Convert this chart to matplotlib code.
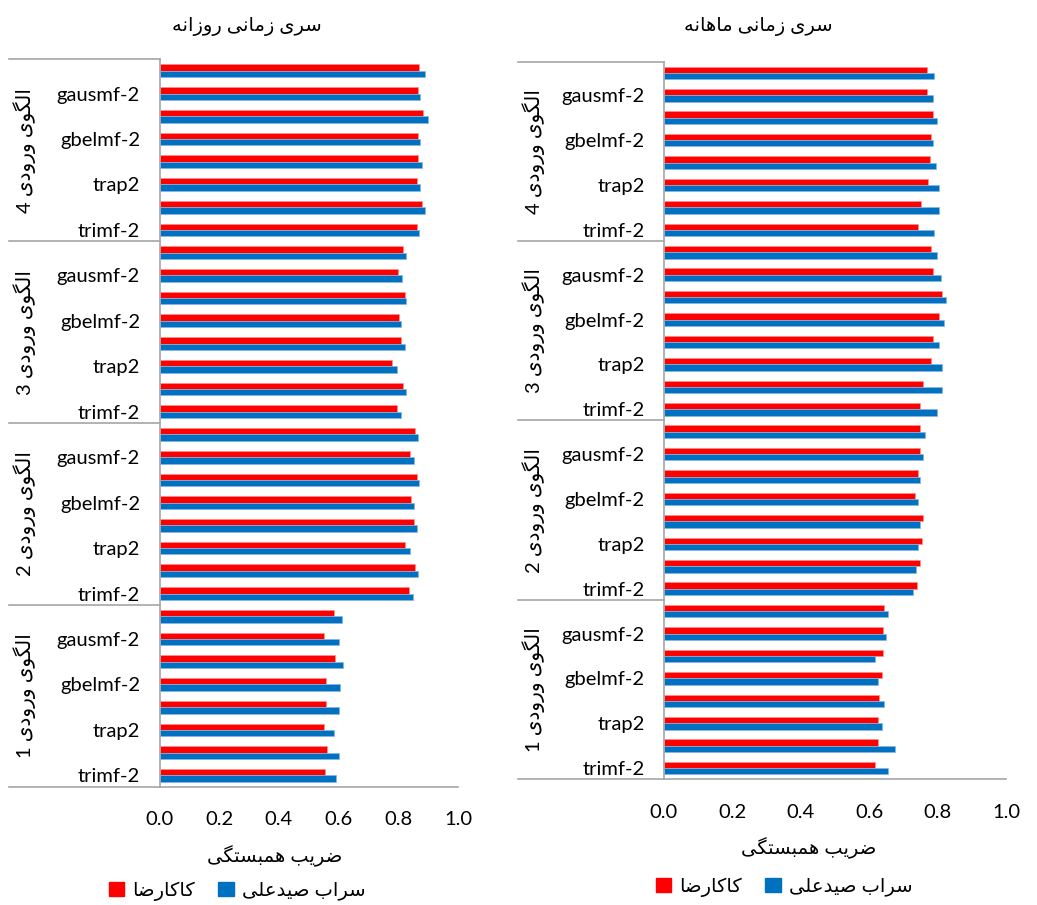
import re
import numpy as np
import matplotlib
matplotlib.use('Agg')
import matplotlib.pyplot as plt
from matplotlib.patches import Patch

plt.rcParams['font.family'] = ['Lato', 'DejaVu Sans']

# ---- data (rows listed bottom -> top inside each group) ----
group_names = ['الگوی ورودی 1', 'الگوی ورودی 2', 'الگوی ورودی 3', 'الگوی ورودی 4']
cat_labels = ['trimf-2', '', 'trap2', '', 'gbelmf-2', '', 'gausmf-2', '']
series_names = ['کاکارضا', 'سراب صیدعلی']
panel_titles = ['سری زمانی روزانه', 'سری زمانی ماهانه']
x_label = 'ضریب همبستگی'
x_ticks = [0.0, 0.2, 0.4, 0.6, 0.8, 1.0]

daily_kakareza = [0.555, 0.561, 0.550, 0.557, 0.558, 0.588, 0.550, 0.585,
                  0.836, 0.857, 0.822, 0.852, 0.841, 0.861, 0.840, 0.857,
                  0.795, 0.815, 0.780, 0.810, 0.801, 0.821, 0.800, 0.816,
                  0.862, 0.880, 0.864, 0.867, 0.866, 0.882, 0.867, 0.871]
daily_sarab = [0.591, 0.601, 0.585, 0.601, 0.605, 0.615, 0.601, 0.610,
               0.849, 0.867, 0.838, 0.863, 0.851, 0.869, 0.854, 0.867,
               0.809, 0.825, 0.796, 0.822, 0.810, 0.826, 0.814, 0.825,
               0.870, 0.888, 0.873, 0.880, 0.873, 0.901, 0.874, 0.891]
monthly_kakareza = [0.617, 0.626, 0.627, 0.630, 0.636, 0.639, 0.639, 0.643,
                    0.739, 0.749, 0.754, 0.758, 0.735, 0.744, 0.749, 0.749,
                    0.749, 0.758, 0.782, 0.787, 0.804, 0.813, 0.788, 0.780,
                    0.744, 0.750, 0.772, 0.778, 0.780, 0.788, 0.769, 0.770]
monthly_sarab = [0.656, 0.675, 0.636, 0.643, 0.627, 0.617, 0.650, 0.656,
                 0.729, 0.738, 0.744, 0.749, 0.744, 0.749, 0.758, 0.763,
                 0.799, 0.814, 0.814, 0.803, 0.819, 0.825, 0.809, 0.799,
                 0.789, 0.804, 0.804, 0.794, 0.788, 0.799, 0.788, 0.789]

RED = '#FF0000'
BLUE = '#0070C0'
GRAY = '#A6A6A6'

# ---- minimal Persian shaping (matplotlib has no complex text layout) ----
FORMS = {
    'ا': ('\uFE8D', '\uFE8E', None, None),
    'ب': ('\uFE8F', '\uFE90', '\uFE91', '\uFE92'),
    'ت': ('\uFE95', '\uFE96', '\uFE97', '\uFE98'),
    'د': ('\uFEA9', '\uFEAA', None, None),
    'ر': ('\uFEAD', '\uFEAE', None, None),
    'ز': ('\uFEAF', '\uFEB0', None, None),
    'س': ('\uFEB1', '\uFEB2', '\uFEB3', '\uFEB4'),
    'ص': ('\uFEB9', '\uFEBA', '\uFEBB', '\uFEBC'),
    'ض': ('\uFEBD', '\uFEBE', '\uFEBF', '\uFEC0'),
    'ع': ('\uFEC9', '\uFECA', '\uFECB', '\uFECC'),
    'ک': ('\uFB8E', '\uFB8F', '\uFB90', '\uFB91'),
    'گ': ('\uFB92', '\uFB93', '\uFB94', '\uFB95'),
    'ل': ('\uFEDD', '\uFEDE', '\uFEDF', '\uFEE0'),
    'م': ('\uFEE1', '\uFEE2', '\uFEE3', '\uFEE4'),
    'ن': ('\uFEE5', '\uFEE6', '\uFEE7', '\uFEE8'),
    'ه': ('\uFEE9', '\uFEEA', '\uFEEB', '\uFEEC'),
    'و': ('\uFEED', '\uFEEE', None, None),
    'ی': ('\uFBFC', '\uFBFD', '\uFBFE', '\uFBFF'),
}


def fa(text):
    out = []
    for i, ch in enumerate(text):
        if ch not in FORMS:
            out.append(ch)
            continue
        prev = text[i - 1] if i > 0 else ''
        nxt = text[i + 1] if i + 1 < len(text) else ''
        join_prev = prev in FORMS and FORMS[prev][2] is not None
        join_next = nxt in FORMS and FORMS[ch][2] is not None
        iso, fin, ini, med = FORMS[ch]
        if join_prev and join_next:
            out.append(med)
        elif join_prev:
            out.append(fin)
        elif join_next:
            out.append(ini)
        else:
            out.append(iso)
    s = ''.join(out)[::-1]
    return re.sub(r'[0-9A-Za-z.\-]+', lambda m: m.group(0)[::-1], s)


W, H = 1037, 905
fig = plt.figure(figsize=(W / 100, H / 100), dpi=100)


def box(x0, x1, y0, y1):
    return [x0 / W, 1 - y1 / H, (x1 - x0) / W, (y1 - y0) / H]


panels = [
    dict(rect=box(159.5, 458, 59.5, 786.7), red=daily_kakareza, blue=daily_sarab,
         line_x=9, group_x=25, title_x=247, xlabel_x=275, xlabel_y=856,
         leg_x=237, leg_y=891),
    dict(rect=box(664, 1006, 61.7, 779.3), red=monthly_kakareza, blue=monthly_sarab,
         line_x=518, group_x=534, title_x=758, xlabel_x=809, xlabel_y=848,
         leg_x=784, leg_y=887),
]

n_cat = len(cat_labels)
n_rows = len(group_names) * n_cat
ypos = np.arange(n_rows)
bh = 0.28

for k, p in enumerate(panels):
    ax = fig.add_axes(p['rect'])
    ax.barh(ypos + bh / 2, p['red'], height=bh, color=RED, edgecolor='#FF9090', linewidth=0.5)
    ax.barh(ypos - bh / 2, p['blue'], height=bh, color=BLUE, edgecolor='#8DB4E2', linewidth=0.5)
    ax.set_xlim(0, 1.0)
    ax.set_ylim(-0.5, n_rows - 0.5)
    ax.set_xticks(x_ticks)
    ax.set_xticklabels(['%.1f' % t for t in x_ticks])
    ax.set_yticks(ypos)
    ax.set_yticklabels(cat_labels * len(group_names))
    ax.tick_params(axis='both', length=0, labelsize=14.5)
    ax.tick_params(axis='y', pad=14)
    ax.tick_params(axis='x', pad=17.5)
    for s in ['top', 'right']:
        ax.spines[s].set_visible(False)
    for s in ['left', 'bottom']:
        ax.spines[s].set_color(GRAY)
        ax.spines[s].set_linewidth(1.2)

    # multi-level category axis: group separators and group names
    x_ax = ax.transAxes.inverted().transform(fig.transFigure.transform((p['line_x'] / W, 0)))[0]
    trans = ax.get_yaxis_transform()
    for g in range(len(group_names) + 1):
        yb = g * n_cat - 0.5
        ax.plot([x_ax, 0], [yb, yb], color=GRAY, lw=1.2, transform=trans, clip_on=False)
    xg = ax.transAxes.inverted().transform(fig.transFigure.transform((p['group_x'] / W, 0)))[0]
    for g, name in enumerate(group_names):
        ax.text(xg, g * n_cat + (n_cat - 1) / 2, fa(name), rotation=90, transform=trans,
                ha='center', va='center', fontsize=14.5)

    fig.text(p['title_x'] / W, 1 - 26 / H, fa(panel_titles[k]), ha='center', va='center',
             fontsize=14)
    fig.text(p['xlabel_x'] / W, 1 - p['xlabel_y'] / H, fa(x_label), ha='center', va='center',
             fontsize=14)
    fig.legend(handles=[Patch(color=RED, label=fa(series_names[0])),
                        Patch(color=BLUE, label=fa(series_names[1]))],
               loc='center', bbox_to_anchor=(p['leg_x'] / W, 1 - p['leg_y'] / H),
               ncol=2, frameon=False, fontsize=14, handlelength=0.8, handleheight=0.8,
               handletextpad=0.4, columnspacing=1.2)

fig.savefig('out.png', dpi=100)
